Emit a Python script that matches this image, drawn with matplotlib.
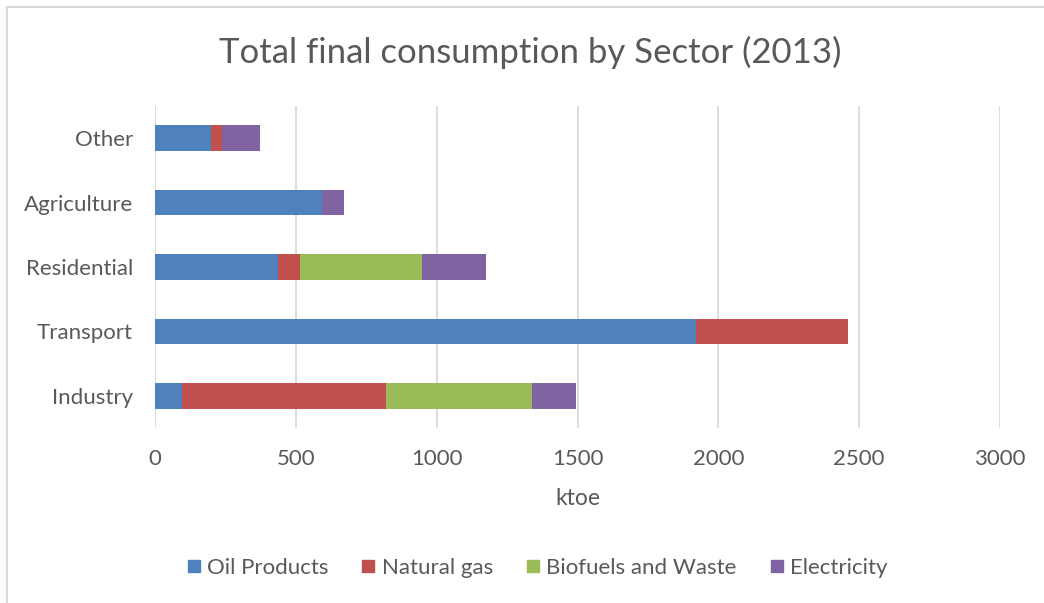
import matplotlib
matplotlib.use("Agg")
import matplotlib.pyplot as plt
from matplotlib.lines import Line2D
import numpy as np

plt.rcParams['font.family'] = ['Lato', 'DejaVu Sans']

sectors = ["Industry", "Transport", "Residential", "Agriculture", "Other"]
series_names = ["Oil Products", "Natural gas", "Biofuels and Waste", "Electricity"]
oil_products = [96, 1920, 437, 593, 200]
natural_gas = [725, 540, 78, 0, 38]
biofuels_waste = [518, 0, 433, 0, 0]
electricity = [156, 0, 228, 78, 135]
xticks = [0, 500, 1000, 1500, 2000, 2500, 3000]

colors = ["#4F81BD", "#C0504D", "#9BBB59", "#8064A2"]
text_color = "#595959"

W, H = 1044, 603
fig = plt.figure(figsize=(W / 100, H / 100), dpi=100)
ax = fig.add_axes([155 / W, 1 - 428 / H, (1000 - 155) / W, (428 - 106) / H])

y = np.arange(len(sectors))
left = np.zeros(len(sectors))
for name, vals, c in zip(series_names,
                         [oil_products, natural_gas, biofuels_waste, electricity],
                         colors):
    vals = np.array(vals, dtype=float)
    ax.barh(y, vals, left=left, height=0.4, color=c, label=name, zorder=3)
    left += vals

ax.set_xlim(0, 3000)
ax.set_ylim(-0.5, 4.5)
ax.set_xticks(xticks)
ax.set_xticklabels([str(t) for t in xticks])
ax.set_yticks(y)
ax.set_yticklabels(sectors)
ax.tick_params(axis='both', length=0, colors=text_color, labelsize=16)
ax.tick_params(axis='x', pad=15)
ax.tick_params(axis='y', pad=16)
for s in ax.spines.values():
    s.set_visible(False)
ax.grid(axis='x', color="#D9D9D9", linewidth=1.3, zorder=0)
ax.set_axisbelow(True)
ax.set_xlabel("ktoe", fontsize=16.5, color=text_color, labelpad=14)

fig.text(530 / W, 1 - 52 / H, "Total final consumption by Sector (2013)",
         ha='center', va='center', fontsize=25, color=text_color)

handles = [Line2D([0], [0], marker='s', linestyle='none', markersize=9,
                  markerfacecolor=c, markeredgecolor=c) for c in colors]
fig.legend(handles, series_names, loc='center', bbox_to_anchor=(535 / W, 1 - 568 / H),
           ncol=4, frameon=False, fontsize=16, labelcolor=text_color,
           handletextpad=0.1, columnspacing=1.3, handlelength=1.0)

# outer frame (top and left visible)
fig.add_artist(Line2D([6.5 / W, 6.5 / W], [0, 1 - 7 / H], transform=fig.transFigure,
                      color="#D9D9D9", linewidth=1.5))
fig.add_artist(Line2D([6.5 / W, 1], [1 - 7 / H, 1 - 7 / H], transform=fig.transFigure,
                      color="#D9D9D9", linewidth=1.5))

fig.savefig("out.png", dpi=100, facecolor="white")
